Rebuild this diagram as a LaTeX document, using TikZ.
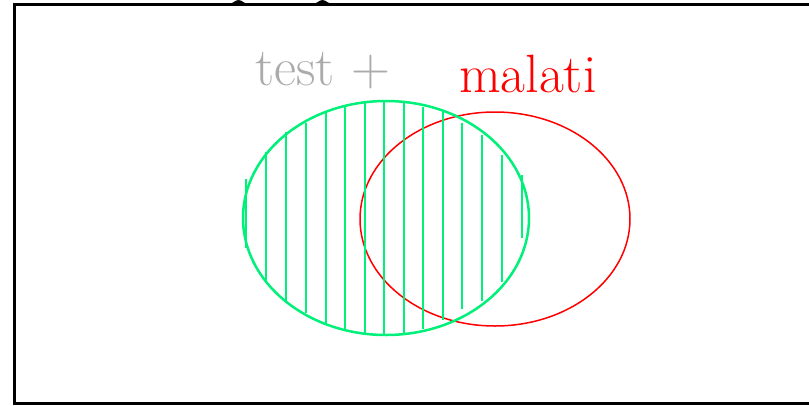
\documentclass[tikz,border=0pt]{standalone}
\definecolor{hgreen}{RGB}{0,240,122}
\definecolor{tgray}{RGB}{171,171,171}
\begin{document}
\begin{tikzpicture}[x=1pt,y=-1pt,
  frame/.style={draw=black,line width=3pt},
  hatch/.style={draw=hgreen,line width=2.4pt},
  setlabel/.style={anchor=base west,inner sep=0pt,font=\fontsize{54}{54}\selectfont}]
\useasboundingbox (0,0) rectangle (809,405);
\begin{scope}
\clip (0,0) rectangle (809,405);
\draw[frame] (14.5,4.5) rectangle (830,403);
\fill[black] (226,5) .. controls (233,4) and (235,0) .. (238.5,0) .. controls (242,0) and (244,4) .. (251,5) -- cycle;
\fill[black] (310,5) .. controls (317,4) and (319,0) .. (322.5,0) .. controls (326,0) and (328,4) .. (335,5) -- cycle;
\end{scope}
\draw[red,line width=1.5pt] (495,219) ellipse [x radius=135, y radius=107];
\foreach \x/\a/\b in {246/179/248, 266/152/282, 286/132/302, 306/123/313, 326/112/323, 345/105/329, 365/102/333, 384/101/335, 404/102/333, 423/107/329, 443/112/320, 462/123/309, 482/135/301, 502/155/282, 522/175/238}
  \draw[hatch] (\x,\a) -- (\x,\b);
\draw[hgreen,line width=2.5pt] (386,218) ellipse [x radius=143, y radius=117];
\node[setlabel,text=tgray] (tp) at (255,85) {test +};
\node[setlabel,text=red] (ml) at (459,92.7) {malati};
\end{tikzpicture}
\end{document}
